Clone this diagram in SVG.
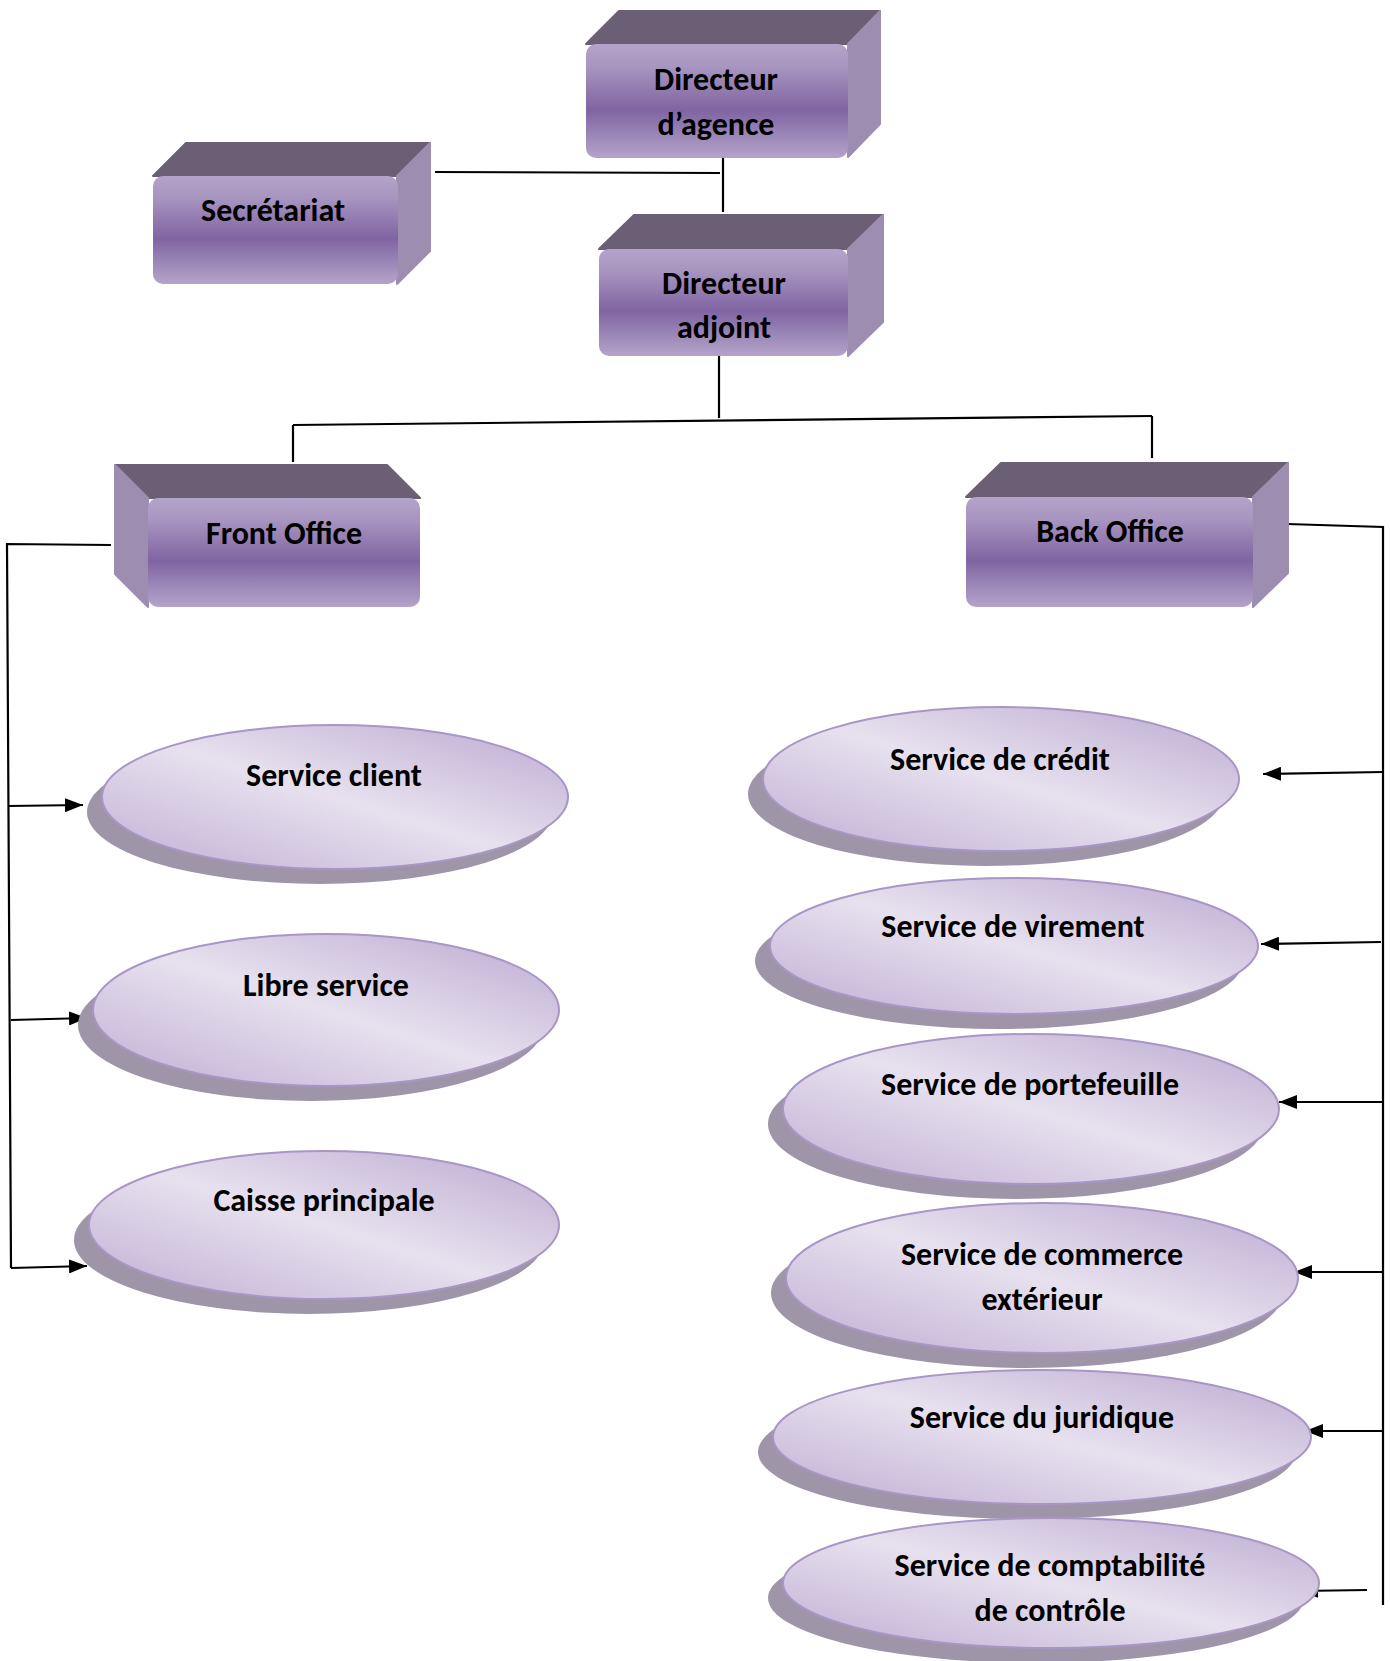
<svg xmlns="http://www.w3.org/2000/svg" width="1390" height="1661" viewBox="0 0 1390 1661">
  <defs>
    <linearGradient id="faceGrad" x1="0" y1="0" x2="0" y2="1">
      <stop offset="0" stop-color="#b4a3ca"/>
      <stop offset="0.2" stop-color="#a895c0"/>
      <stop offset="0.58" stop-color="#8064a2"/>
      <stop offset="0.8" stop-color="#9b87b7"/>
      <stop offset="1" stop-color="#b4a3ca"/>
    </linearGradient>
    <linearGradient id="ovalGrad" x1="1" y1="0" x2="0" y2="1">
      <stop offset="0" stop-color="#bba9d0"/>
      <stop offset="0.5" stop-color="#e7e1ef"/>
      <stop offset="1" stop-color="#bfaed3"/>
    </linearGradient>
    <marker id="arrow" viewBox="0 0 18 14" refX="18" refY="7" markerWidth="18" markerHeight="14" markerUnits="userSpaceOnUse" orient="auto">
      <path d="M0,0 L18,7 L0,14 z" fill="#000"/>
    </marker>
  </defs>
  <style>
    .top { fill: #6a5f75; stroke: #6a5f75; stroke-width: 2; stroke-linejoin: round; }
    .side { fill: #9d8db0; stroke: #9d8db0; stroke-width: 2; stroke-linejoin: round; }
    .front { fill: url(#faceGrad); }
    .shadow { fill: #9f95a9; }
    .oval { fill: url(#ovalGrad); stroke: #a996c5; stroke-width: 2; }
    .label { font-family: Carlito, "Open Sans", "Liberation Sans", sans-serif; font-weight: bold; font-size: 32px; fill: #000; text-anchor: middle; }
    .link { fill: none; stroke: #000; stroke-width: 2.2; }
    .arrowed { marker-end: url(#arrow); }
  </style>

  <!-- connectors -->
  <g id="connectors">
    <path class="link" d="M723,142 L723,212"/>
    <path class="link" d="M435,172 L720,173"/>
    <path class="link" d="M719,356 L719,418"/>
    <path class="link" d="M293,425 L1152,416"/>
    <path class="link" d="M293,425 L293,462"/>
    <path class="link" d="M1152,416 L1152,458"/>
    <path class="link" d="M111,545 L7,544 L11,1268"/>
    <path class="link arrowed" d="M8,806 L83,805"/>
    <path class="link arrowed" d="M11,1020 L87,1018"/>
    <path class="link arrowed" d="M11,1268 L87,1266"/>
    <path class="link" d="M1287,524 L1383,527 L1383,1605"/>
    <path class="link arrowed" d="M1383,772 L1263,774"/>
    <path class="link arrowed" d="M1381,942 L1261,944"/>
    <path class="link arrowed" d="M1383,1102 L1279,1102"/>
    <path class="link arrowed" d="M1383,1272 L1294,1272"/>
    <path class="link arrowed" d="M1383,1431 L1305,1431"/>
    <path class="link arrowed" d="M1367,1590 L1300,1591"/>
  </g>

  <!-- boxes -->
  <g id="directeur-agence">
    <polygon class="top" points="586,44 619,11 880,11 848,44"/>
    <polygon class="side" points="848,44 880,11 880,124 848,157"/>
    <rect class="front" x="586" y="44" width="262" height="114" rx="10"/>
    <text class="label" x="716" y="90">Directeur</text>
    <text class="label" x="716" y="135">d’agence</text>
  </g>

  <g id="secretariat">
    <polygon class="top" points="153,176 186,143 430,143 397,176"/>
    <polygon class="side" points="397,176 430,143 430,251 397,284"/>
    <rect class="front" x="153" y="176" width="245" height="108" rx="10"/>
    <text class="label" x="273" y="221">Secrétariat</text>
  </g>

  <g id="directeur-adjoint">
    <polygon class="top" points="599,249 634,215 883,215 848,249"/>
    <polygon class="side" points="848,249 883,215 883,322 848,356"/>
    <rect class="front" x="599" y="249" width="249" height="107" rx="10"/>
    <text class="label" x="724" y="294">Directeur</text>
    <text class="label" x="724" y="338">adjoint</text>
  </g>

  <g id="front-office">
    <polygon class="top" points="148,498 115,465 387,465 420,498"/>
    <polygon class="side" points="148,498 115,465 115,574 148,607"/>
    <rect class="front" x="148" y="498" width="272" height="109" rx="10"/>
    <text class="label" x="284" y="544">Front Office</text>
  </g>

  <g id="back-office">
    <polygon class="top" points="966,497 1001,463 1288,463 1253,497"/>
    <polygon class="side" points="1253,497 1288,463 1288,573 1253,607"/>
    <rect class="front" x="966" y="497" width="287" height="110" rx="10"/>
    <text class="label" x="1110" y="542">Back Office</text>
  </g>

  <!-- services under Front Office -->
  <g id="service-client">
    <ellipse class="shadow" cx="320" cy="812" rx="233" ry="72"/>
    <ellipse class="oval" cx="335" cy="797" rx="233" ry="72"/>
    <text class="label" x="334" y="786">Service client</text>
  </g>

  <g id="libre-service">
    <ellipse class="shadow" cx="311" cy="1025" rx="233" ry="76"/>
    <ellipse class="oval" cx="326" cy="1010" rx="233" ry="76"/>
    <text class="label" x="326" y="996">Libre service</text>
  </g>

  <g id="caisse-principale">
    <ellipse class="shadow" cx="309" cy="1240" rx="235" ry="74"/>
    <ellipse class="oval" cx="324" cy="1225" rx="235" ry="74"/>
    <text class="label" x="324" y="1211">Caisse principale</text>
  </g>

  <!-- services under Back Office -->
  <g id="service-credit">
    <ellipse class="shadow" cx="986" cy="794" rx="238" ry="72"/>
    <ellipse class="oval" cx="1001" cy="779" rx="238" ry="72"/>
    <text class="label" x="1000" y="770">Service de crédit</text>
  </g>

  <g id="service-virement">
    <ellipse class="shadow" cx="999" cy="961" rx="244" ry="68"/>
    <ellipse class="oval" cx="1014" cy="946" rx="244" ry="68"/>
    <text class="label" x="1013" y="937">Service de virement</text>
  </g>

  <g id="service-portefeuille">
    <ellipse class="shadow" cx="1016" cy="1124" rx="248" ry="75"/>
    <ellipse class="oval" cx="1031" cy="1109" rx="248" ry="75"/>
    <text class="label" x="1030" y="1095">Service de portefeuille</text>
  </g>

  <g id="service-commerce-exterieur">
    <ellipse class="shadow" cx="1027" cy="1293" rx="256" ry="75"/>
    <ellipse class="oval" cx="1042" cy="1278" rx="256" ry="75"/>
    <text class="label" x="1042" y="1265">Service de commerce</text>
    <text class="label" x="1042" y="1310">extérieur</text>
  </g>

  <g id="service-juridique">
    <ellipse class="shadow" cx="1027" cy="1452" rx="269" ry="67"/>
    <ellipse class="oval" cx="1042" cy="1437" rx="269" ry="67"/>
    <text class="label" x="1042" y="1428">Service du juridique</text>
  </g>

  <g id="service-comptabilite-controle">
    <ellipse class="shadow" cx="1036" cy="1598" rx="268" ry="65"/>
    <ellipse class="oval" cx="1051" cy="1583" rx="268" ry="65"/>
    <text class="label" x="1050" y="1576">Service de comptabilité</text>
    <text class="label" x="1050" y="1621">de contrôle</text>
  </g>
</svg>
